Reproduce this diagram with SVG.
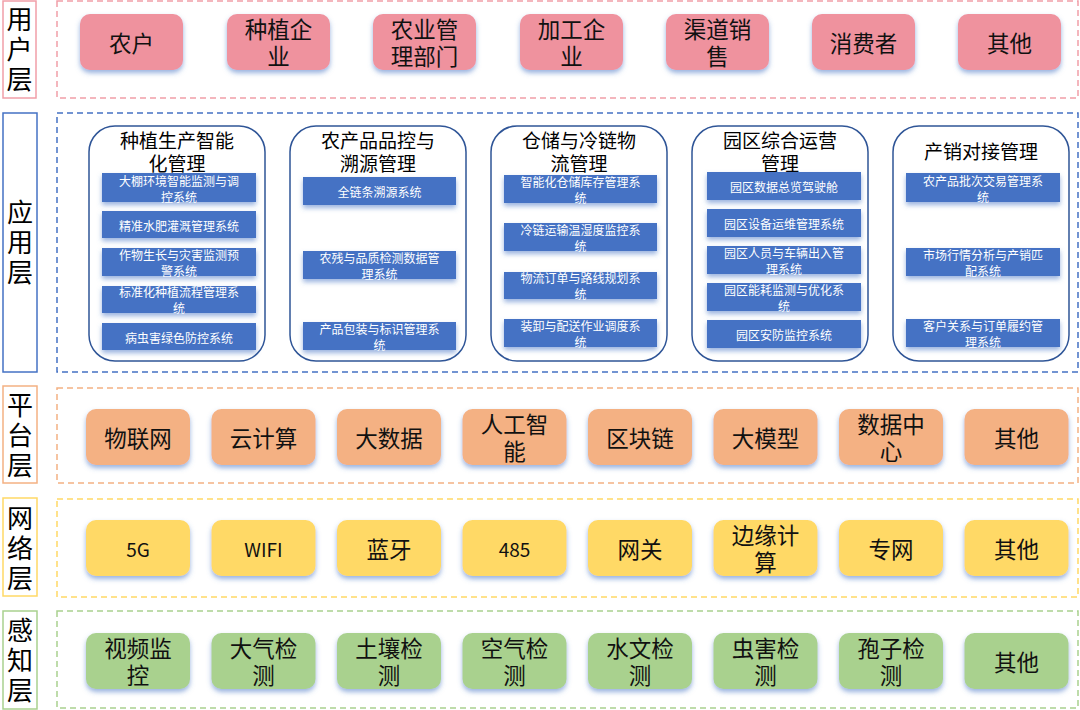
<svg xmlns="http://www.w3.org/2000/svg" width="1080" height="710" viewBox="0 0 1080 710">
<defs>
<filter id="sh" x="-20%" y="-20%" width="140%" height="160%">
<feDropShadow dx="0" dy="3" stdDeviation="2.5" flood-color="#4472c4" flood-opacity="0.55"/>
</filter>
<style>
text{font-family:"Noto Sans CJK SC","Noto Sans",sans-serif;text-anchor:middle;dominant-baseline:central;}
.lbl{font-size:26px;fill:#000;writing-mode:vertical-rl;letter-spacing:4px;}
.nt{font-size:22.5px;fill:#111;}
.nt2{font-size:19px;fill:#111;}
.gt{font-size:19px;fill:#000;}
.it{font-size:12px;fill:#fff;}
.dash{fill:none;stroke-width:1.5;stroke-dasharray:6 4;}
.u{fill:#ef929e;filter:url(#sh);}
.p{fill:#f4b183;filter:url(#sh);}
.w{fill:#ffd966;filter:url(#sh);}
.s{fill:#a9d18e;filter:url(#sh);}
.grp{fill:#fff;stroke:#2f5597;stroke-width:1.5;}
.ib{fill:#4472c4;filter:url(#sh);}
</style>
</defs>
<rect width="1080" height="710" fill="#fff"/>

<g id="layer-frames">
<rect x="3" y="1" width="33" height="97" fill="#fff" stroke="#f19ea8" stroke-width="1.5"/>
<rect x="57" y="1" width="1021" height="97" class="dash" stroke="#f19ea8"/>
<rect x="3" y="113" width="34" height="259" fill="#fff" stroke="#4472c4" stroke-width="1.5"/>
<rect x="57" y="113" width="1021" height="259" class="dash" stroke="#4472c4"/>
<rect x="3" y="386" width="34" height="97" fill="#fff" stroke="#f4b183" stroke-width="1.5"/>
<rect x="57" y="388" width="1021" height="95" class="dash" stroke="#f4b183"/>
<rect x="3" y="498" width="34" height="98" fill="#fff" stroke="#ffd966" stroke-width="1.5"/>
<rect x="57" y="499" width="1021" height="98" class="dash" stroke="#ffd966"/>
<rect x="3" y="611" width="34" height="98" fill="#fff" stroke="#a9d18e" stroke-width="1.5"/>
<rect x="57" y="611" width="1021" height="97" class="dash" stroke="#a9d18e"/>
</g>

<g id="layer-labels">
<text class="lbl" x="19.5" y="51">用户层</text>
<text class="lbl" x="20" y="244">应用层</text>
<text class="lbl" x="20" y="437">平台层</text>
<text class="lbl" x="20" y="550">网络层</text>
<text class="lbl" x="20" y="662">感知层</text>
</g>

<g id="u1"><rect class="u" x="80" y="14" width="103" height="56" rx="10"/><text class="nt" x="131.5" y="42">农户</text></g>
<g id="u2"><rect class="u" x="227" y="14" width="103" height="56" rx="10"/><text class="nt"><tspan x="278.5" y="28">种植企</tspan><tspan x="278.5" dy="27">业</tspan></text></g>
<g id="u3"><rect class="u" x="373" y="14" width="103" height="56" rx="10"/><text class="nt"><tspan x="424.5" y="28">农业管</tspan><tspan x="424.5" dy="27">理部门</tspan></text></g>
<g id="u4"><rect class="u" x="520" y="14" width="103" height="56" rx="10"/><text class="nt"><tspan x="571.5" y="28">加工企</tspan><tspan x="571.5" dy="27">业</tspan></text></g>
<g id="u5"><rect class="u" x="666" y="14" width="103" height="56" rx="10"/><text class="nt"><tspan x="717.5" y="28">渠道销</tspan><tspan x="717.5" dy="27">售</tspan></text></g>
<g id="u6"><rect class="u" x="812" y="14" width="103" height="56" rx="10"/><text class="nt" x="863.5" y="42">消费者</text></g>
<g id="u7"><rect class="u" x="958" y="14" width="103" height="56" rx="10"/><text class="nt" x="1009.5" y="42">其他</text></g>

<g id="a1">
<rect class="grp" x="89" y="126" width="176" height="235" rx="26"/>
<text class="gt"><tspan x="177" y="139">种植生产智能</tspan><tspan x="177" dy="23">化管理</tspan></text>
<rect class="ib" x="102" y="173" width="154" height="29"/><text class="it"><tspan x="179" y="180">大棚环境智能监测与调</tspan><tspan x="179" dy="16">控系统</tspan></text>
<rect class="ib" x="102" y="211" width="154" height="27"/><text class="it" x="179" y="225">精准水肥灌溉管理系统</text>
<rect class="ib" x="102" y="248" width="154" height="28"/><text class="it"><tspan x="179" y="254">作物生长与灾害监测预</tspan><tspan x="179" dy="16">警系统</tspan></text>
<rect class="ib" x="102" y="286" width="154" height="27"/><text class="it"><tspan x="179" y="291">标准化种植流程管理系</tspan><tspan x="179" dy="16">统</tspan></text>
<rect class="ib" x="102" y="323" width="154" height="27"/><text class="it" x="179" y="337">病虫害绿色防控系统</text>
</g>
<g id="a2">
<rect class="grp" x="290" y="126" width="176" height="235" rx="26"/>
<text class="gt"><tspan x="378" y="139">农产品品控与</tspan><tspan x="378" dy="23">溯源管理</tspan></text>
<rect class="ib" x="303" y="177" width="153" height="28"/><text class="it" x="379.5" y="191">全链条溯源系统</text>
<rect class="ib" x="303" y="251" width="153" height="28"/><text class="it"><tspan x="379.5" y="257">农残与品质检测数据管</tspan><tspan x="379.5" dy="16">理系统</tspan></text>
<rect class="ib" x="303" y="322" width="153" height="28"/><text class="it"><tspan x="379.5" y="328">产品包装与标识管理系</tspan><tspan x="379.5" dy="16">统</tspan></text>
</g>
<g id="a3">
<rect class="grp" x="491" y="126" width="176" height="235" rx="26"/>
<text class="gt"><tspan x="579" y="139">仓储与冷链物</tspan><tspan x="579" dy="23">流管理</tspan></text>
<rect class="ib" x="504" y="175" width="153" height="28"/><text class="it"><tspan x="580.5" y="181">智能化仓储库存管理系</tspan><tspan x="580.5" dy="16">统</tspan></text>
<rect class="ib" x="504" y="223" width="153" height="28"/><text class="it"><tspan x="580.5" y="229">冷链运输温湿度监控系</tspan><tspan x="580.5" dy="16">统</tspan></text>
<rect class="ib" x="504" y="272" width="153" height="27"/><text class="it"><tspan x="580.5" y="277">物流订单与路线规划系</tspan><tspan x="580.5" dy="16">统</tspan></text>
<rect class="ib" x="504" y="319" width="153" height="28"/><text class="it"><tspan x="580.5" y="325">装卸与配送作业调度系</tspan><tspan x="580.5" dy="16">统</tspan></text>
</g>
<g id="a4">
<rect class="grp" x="692" y="126" width="176" height="235" rx="26"/>
<text class="gt"><tspan x="780" y="139">园区综合运营</tspan><tspan x="780" dy="23">管理</tspan></text>
<rect class="ib" x="707" y="172" width="154" height="28"/><text class="it" x="784" y="186">园区数据总览驾驶舱</text>
<rect class="ib" x="707" y="209" width="154" height="28"/><text class="it" x="784" y="223">园区设备运维管理系统</text>
<rect class="ib" x="707" y="246" width="154" height="28"/><text class="it"><tspan x="784" y="252">园区人员与车辆出入管</tspan><tspan x="784" dy="16">理系统</tspan></text>
<rect class="ib" x="707" y="283" width="154" height="28"/><text class="it"><tspan x="784" y="289">园区能耗监测与优化系</tspan><tspan x="784" dy="16">统</tspan></text>
<rect class="ib" x="707" y="320" width="154" height="28"/><text class="it" x="784" y="334">园区安防监控系统</text>
</g>
<g id="a5">
<rect class="grp" x="893" y="126" width="176" height="235" rx="26"/>
<text class="gt" x="981" y="150">产销对接管理</text>
<rect class="ib" x="906" y="173" width="154" height="29"/><text class="it"><tspan x="983" y="180">农产品批次交易管理系</tspan><tspan x="983" dy="16">统</tspan></text>
<rect class="ib" x="906" y="248" width="154" height="28"/><text class="it"><tspan x="983" y="254">市场行情分析与产销匹</tspan><tspan x="983" dy="16">配系统</tspan></text>
<rect class="ib" x="906" y="319" width="154" height="28"/><text class="it"><tspan x="983" y="325">客户关系与订单履约管</tspan><tspan x="983" dy="16">理系统</tspan></text>
</g>

<g id="p1"><rect class="p" x="86" y="409" width="104" height="56" rx="10"/><text class="nt" x="138" y="437">物联网</text></g>
<g id="p2"><rect class="p" x="211.5" y="409" width="104" height="56" rx="10"/><text class="nt" x="263.5" y="437">云计算</text></g>
<g id="p3"><rect class="p" x="337" y="409" width="104" height="56" rx="10"/><text class="nt" x="389" y="437">大数据</text></g>
<g id="p4"><rect class="p" x="462.5" y="409" width="104" height="56" rx="10"/><text class="nt"><tspan x="514.5" y="423">人工智</tspan><tspan x="514.5" dy="27">能</tspan></text></g>
<g id="p5"><rect class="p" x="588" y="409" width="104" height="56" rx="10"/><text class="nt" x="640" y="437">区块链</text></g>
<g id="p6"><rect class="p" x="713.5" y="409" width="104" height="56" rx="10"/><text class="nt" x="765.5" y="437">大模型</text></g>
<g id="p7"><rect class="p" x="839" y="409" width="104" height="56" rx="10"/><text class="nt"><tspan x="891" y="423">数据中</tspan><tspan x="891" dy="27">心</tspan></text></g>
<g id="p8"><rect class="p" x="964.5" y="409" width="104" height="56" rx="10"/><text class="nt" x="1016.5" y="437">其他</text></g>

<g id="n1"><rect class="w" x="86" y="520" width="104" height="56" rx="10"/><text class="nt2" x="138" y="548">5G</text></g>
<g id="n2"><rect class="w" x="211.5" y="520" width="104" height="56" rx="10"/><text class="nt2" x="263.5" y="548">WIFI</text></g>
<g id="n3"><rect class="w" x="337" y="520" width="104" height="56" rx="10"/><text class="nt" x="389" y="548">蓝牙</text></g>
<g id="n4"><rect class="w" x="462.5" y="520" width="104" height="56" rx="10"/><text class="nt2" x="514.5" y="548">485</text></g>
<g id="n5"><rect class="w" x="588" y="520" width="104" height="56" rx="10"/><text class="nt" x="640" y="548">网关</text></g>
<g id="n6"><rect class="w" x="713.5" y="520" width="104" height="56" rx="10"/><text class="nt"><tspan x="765.5" y="534">边缘计</tspan><tspan x="765.5" dy="27">算</tspan></text></g>
<g id="n7"><rect class="w" x="839" y="520" width="104" height="56" rx="10"/><text class="nt" x="891" y="548">专网</text></g>
<g id="n8"><rect class="w" x="964.5" y="520" width="104" height="56" rx="10"/><text class="nt" x="1016.5" y="548">其他</text></g>

<g id="s1"><rect class="s" x="86" y="633" width="104" height="56" rx="10"/><text class="nt"><tspan x="138" y="647">视频监</tspan><tspan x="138" dy="27">控</tspan></text></g>
<g id="s2"><rect class="s" x="211.5" y="633" width="104" height="56" rx="10"/><text class="nt"><tspan x="263.5" y="647">大气检</tspan><tspan x="263.5" dy="27">测</tspan></text></g>
<g id="s3"><rect class="s" x="337" y="633" width="104" height="56" rx="10"/><text class="nt"><tspan x="389" y="647">土壤检</tspan><tspan x="389" dy="27">测</tspan></text></g>
<g id="s4"><rect class="s" x="462.5" y="633" width="104" height="56" rx="10"/><text class="nt"><tspan x="514.5" y="647">空气检</tspan><tspan x="514.5" dy="27">测</tspan></text></g>
<g id="s5"><rect class="s" x="588" y="633" width="104" height="56" rx="10"/><text class="nt"><tspan x="640" y="647">水文检</tspan><tspan x="640" dy="27">测</tspan></text></g>
<g id="s6"><rect class="s" x="713.5" y="633" width="104" height="56" rx="10"/><text class="nt"><tspan x="765.5" y="647">虫害检</tspan><tspan x="765.5" dy="27">测</tspan></text></g>
<g id="s7"><rect class="s" x="839" y="633" width="104" height="56" rx="10"/><text class="nt"><tspan x="891" y="647">孢子检</tspan><tspan x="891" dy="27">测</tspan></text></g>
<g id="s8"><rect class="s" x="964.5" y="633" width="104" height="56" rx="10"/><text class="nt" x="1016.5" y="661">其他</text></g>

<g id="connectors"/>
</svg>
